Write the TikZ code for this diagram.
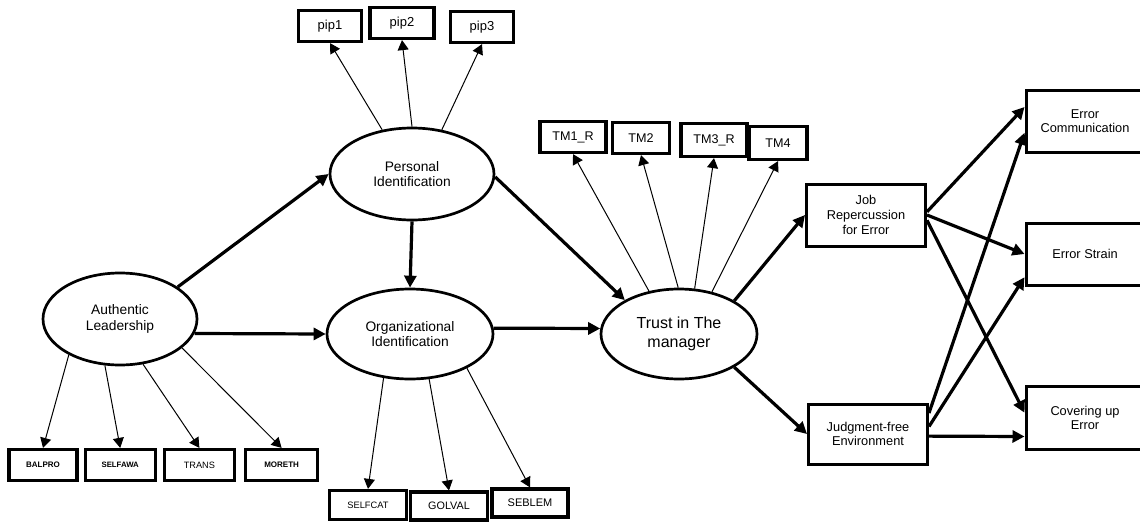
\documentclass[tikz,border=0pt]{standalone}
\usepackage{fontspec}
\setmainfont{Liberation Sans}
\usetikzlibrary{shapes.geometric, arrows.meta, positioning}
\tikzset{
  latent/.style={ellipse, draw, line width=2.7pt, inner sep=0pt, align=center, font=\fontsize{13.8}{15.2}\selectfont}, % latent constructs
  indicator/.style={rectangle, draw, line width=3.2pt, inner sep=0pt, minimum height=31pt}, % measured items
  outcome/.style={rectangle, draw, line width=3pt, inner sep=0pt, align=center, minimum width=119pt, minimum height=62pt, font=\fontsize{12.8}{14.6}\selectfont},
  effect/.style={-{Triangle[length=12pt,width=12pt]}, line width=3.2pt},
  loading/.style={-{Triangle[length=10pt,width=11pt]}, line width=1pt}
}

\begin{document}
\begin{tikzpicture}[x=1pt, y=-1pt]
  \useasboundingbox (0,0) rectangle (1140,522);

  % Nodes
  \node [latent, minimum width=154pt, minimum height=92pt] (auth) at (120,319) {Authentic\\Leadership};
  \node [latent, minimum width=164pt, minimum height=92pt] (pers) at (412,174) {Personal\\Identification};
  \node [latent, minimum width=166pt, minimum height=90pt] (org) at (410,334) {Organizational\\Identification};
  \node [latent, minimum width=156pt, minimum height=90pt, font=\fontsize{16}{18.5}\selectfont] (trust) at (679,334) {Trust in The\\manager};

  \node [indicator, minimum width=63pt, font=\fontsize{13}{14}\selectfont] (pip1) at (330,26) {pip1};
  \node [indicator, minimum width=64pt, font=\fontsize{13}{14}\selectfont] (pip2) at (402,23) {pip2};
  \node [indicator, minimum width=63pt, font=\fontsize{13}{14}\selectfont] (pip3) at (482,27) {pip3};

  \node [indicator, minimum width=68pt, font=\bfseries\fontsize{8}{9}\selectfont] (balpro) at (43,465) {BALPRO};
  \node [indicator, minimum width=70pt, font=\bfseries\fontsize{7.8}{9}\selectfont, right=5pt of balpro] (selfawa) {SELFAWA};
  \node [indicator, minimum width=70pt, font=\fontsize{9.2}{10}\selectfont, right=6pt of selfawa] (trans) {TRANS};
  \node [indicator, minimum width=72pt, font=\bfseries\fontsize{8}{9}\selectfont, right=8pt of trans] (moreth) {MORETH};

  \node [indicator, minimum width=77pt, minimum height=29pt, font=\fontsize{9.3}{10}\selectfont] (selfcat) at (368,505) {SELFCAT};
  \node [indicator, minimum width=77pt, minimum height=28pt, font=\fontsize{10.8}{12}\selectfont] (golval) at (449,506) {GOLVAL};
  \node [indicator, minimum width=76pt, minimum height=28pt, font=\fontsize{11}{12}\selectfont] (seblem) at (530,503) {SEBLEM};

  \node [indicator, minimum width=66pt, font=\fontsize{12.6}{13}\selectfont] (tm1) at (573,137) {TM1\_R};
  \node [indicator, minimum width=57pt, font=\fontsize{12.6}{13}\selectfont] (tm2) at (641,138) {TM2};
  \node [indicator, minimum width=66pt, minimum height=33pt, font=\fontsize{12.6}{13}\selectfont] (tm3) at (714,140) {TM3\_R};
  \node [indicator, minimum width=58pt, minimum height=33pt, font=\fontsize{12.6}{13}\selectfont] (tm4) at (778,143) {TM4};

  \node [outcome] (job) at (866,215) {Job\\Repercussion\\for Error};
  \node [outcome, minimum height=60pt] (judg) at (868,434) {Judgment-free\\Environment};

  \node [outcome, minimum width=118pt] (errcomm) at (1085,121) {Error\\Communication};
  \node [outcome, minimum width=118pt] (errstrain) at (1085,254) {Error Strain};
  \node [outcome, minimum width=118pt, minimum height=63pt] (cover) at (1085,418) {Covering up\\Error};

  % Arrows
  \draw[effect] (auth.29) -- (pers.west);
  \draw[effect] (auth.349) -- (org.west);
  \draw[effect] (pers.south) -- (org.north);
  \draw[effect] (pers.358) -- (trust.148);
  \draw[effect] (org.4) -- (trust.176);
  \draw[effect] (trust.31) -- (job.west);
  \draw[effect] (trust.329) -- (judg.west);

  \draw[effect] (job.3) -- (errcomm.167);
  \draw[effect] (job.east) -- (errstrain.west);
  \draw[effect] (job.355) -- (cover.175);
  \draw[effect] (judg.19) -- (errcomm.191);
  \draw[effect] (judg.7) -- (errstrain.201);
  \draw[effect] (judg.358) -- (cover.197);

  \draw[loading] (pers.124) -- (pip1.south);
  \draw[loading] (pers.90) -- (pip2.south);
  \draw[loading] (pers.56) -- (pip3.south);

  \draw[loading] (auth.215) -- (balpro.north);
  \draw[loading] (auth.252) -- (selfawa.north);
  \draw[loading] (auth.297) -- (trans.north);
  \draw[loading] (auth.335) -- (moreth.north);

  \draw[loading] (org.239) -- (selfcat.north);
  \draw[loading] (org.293) -- (golval.north);
  \draw[loading] (org.329) -- (seblem.north);

  \draw[loading] (trust.125) -- (tm1.south);
  \draw[loading] (trust.91) -- (tm2.south);
  \draw[loading] (trust.71) -- (tm3.south);
  \draw[loading] (trust.52) -- (tm4.south);

\end{tikzpicture}
\end{document}
